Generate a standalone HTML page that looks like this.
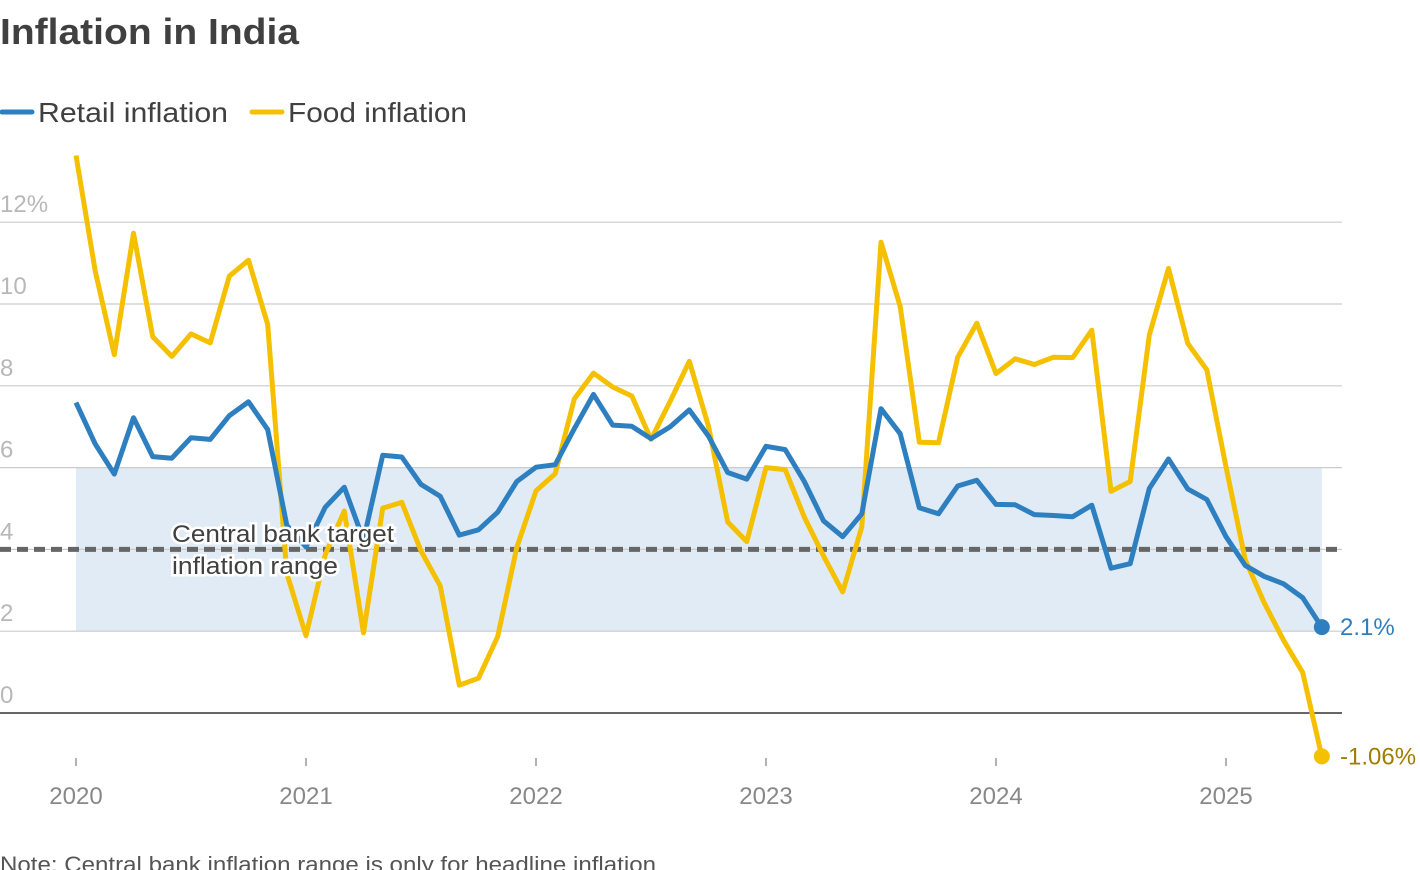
<!DOCTYPE html>
<html><head><meta charset="utf-8">
<style>
body{margin:0;background:#fff;font-family:"Liberation Sans",sans-serif;}
svg{display:block}
</style></head>
<body>
<svg width="1420" height="870" viewBox="0 0 1420 870">
<text x="0" y="44" font-size="36" font-weight="bold" fill="#404040" textLength="299" lengthAdjust="spacingAndGlyphs">Inflation in India</text>
<g>
<line x1="2" y1="112" x2="32" y2="112" stroke="#2e7fbf" stroke-width="5" stroke-linecap="round"/>
<text x="38" y="122" font-size="28" fill="#404040" textLength="190" lengthAdjust="spacingAndGlyphs">Retail inflation</text>
<line x1="252" y1="112" x2="282" y2="112" stroke="#f5c000" stroke-width="5" stroke-linecap="round"/>
<text x="288" y="122" font-size="28" fill="#404040" textLength="179" lengthAdjust="spacingAndGlyphs">Food inflation</text>
</g>
<g id="plot"></g>
<text x="0" y="872" font-size="22" fill="#555" textLength="656" lengthAdjust="spacingAndGlyphs">Note: Central bank inflation range is only for headline inflation</text>
</svg>
<script>
const yTicks=[0,2,4,6,8,10,12];
const yearLabels=["2020","2021","2022","2023","2024","2025"];
const retail=[7.59,6.58,5.84,7.22,6.27,6.23,6.73,6.69,7.27,7.61,6.93,4.59,
4.06,5.03,5.52,4.23,6.30,6.26,5.59,5.30,4.35,4.48,4.91,5.66,
6.01,6.07,6.95,7.79,7.04,7.01,6.71,7.00,7.41,6.77,5.88,5.72,
6.52,6.44,5.66,4.70,4.31,4.87,7.44,6.83,5.02,4.87,5.55,5.69,
5.10,5.09,4.85,4.83,4.80,5.08,3.54,3.65,5.49,6.21,5.48,5.22,
4.31,3.61,3.34,3.16,2.82,2.10];
const food=[13.63,10.81,8.76,11.73,9.20,8.72,9.27,9.05,10.68,11.07,9.50,3.41,
1.89,3.87,4.94,1.96,5.01,5.15,3.96,3.11,0.68,0.85,1.87,4.05,
5.43,5.85,7.68,8.31,7.97,7.75,6.69,7.62,8.60,7.01,4.67,4.19,
6.00,5.95,4.79,3.84,2.96,4.55,11.51,9.94,6.62,6.61,8.70,9.53,
8.30,8.66,8.52,8.70,8.69,9.36,5.42,5.66,9.24,10.87,9.04,8.39,
6.02,3.75,2.69,1.78,0.99,-1.06];
const targetLow=2,targetHigh=6,targetMid=4;
const x=i=>76+i*230/12;
const y=v=>713-v*40.9;
const NS="http://www.w3.org/2000/svg";
const g=document.getElementById('plot');
function mk(t,a){const e=document.createElementNS(NS,t);for(const k in a)e.setAttribute(k,a[k]);g.appendChild(e);return e;}
const n=retail.length;
let band=mk('rect',{x:x(0),y:y(targetHigh),width:x(n-1)-x(0),height:y(targetLow)-y(targetHigh),fill:'#e0ebf5'});


yTicks.forEach(t=>{
 const l=mk('line',{x1:0,x2:1342,y1:y(t),y2:y(t),stroke:t===0?'#333':'#ccc','stroke-width':t===0?1.5:1.2});
 
 
 const tx=mk('text',{x:0,y:y(t)-10,'font-size':24,fill:'#b8b8b8'});
 tx.textContent=t===12?'12%':String(t);
 
 
});
const d=mk('line',{x1:0,x2:1342,y1:y(targetMid),y2:y(targetMid),stroke:'#666','stroke-width':5,'stroke-dasharray':'11 6'});


yearLabels.forEach((s,i)=>{
 const l=mk('line',{x1:x(i*12),x2:x(i*12),y1:758,y2:766,stroke:'#999','stroke-width':1.5});
 
 
 const t=mk('text',{x:x(i*12),y:804,'font-size':24,fill:'#888','text-anchor':'middle'});
 t.textContent=s;
 
 
});
function series(arr,col,name){
 const p=mk('path',{d:arr.map((v,i)=>(i?'L':'M')+x(i).toFixed(1)+','+y(v).toFixed(1)).join(''),fill:'none',stroke:col,'stroke-width':5,'stroke-linejoin':'round'});
 
 
 const c=mk('circle',{cx:x(arr.length-1),cy:y(arr[arr.length-1]),r:8,fill:col});
 
 
}
series(food,'#f5c000','food');
series(retail,'#2e7fbf','retail');
const a1=mk('text',{x:172,y:542,'font-size':24,fill:'#404040',stroke:'#fff','stroke-width':5,'paint-order':'stroke',textLength:222,lengthAdjust:'spacingAndGlyphs'});
a1.textContent='Central bank target';


const a2=mk('text',{x:172,y:574,'font-size':24,fill:'#404040',stroke:'#fff','stroke-width':5,'paint-order':'stroke',textLength:166,lengthAdjust:'spacingAndGlyphs'});
a2.textContent='inflation range';


const r=mk('text',{x:1340,y:y(retail[n-1])+8,'font-size':24,fill:'#2e7fbf'});
r.textContent=retail[n-1].toFixed(1)+'%';


const f=mk('text',{x:1340,y:y(food[n-1])+8,'font-size':24,fill:'#a07d00'});
f.textContent=food[n-1].toFixed(2)+'%';


</script>
</body></html>
